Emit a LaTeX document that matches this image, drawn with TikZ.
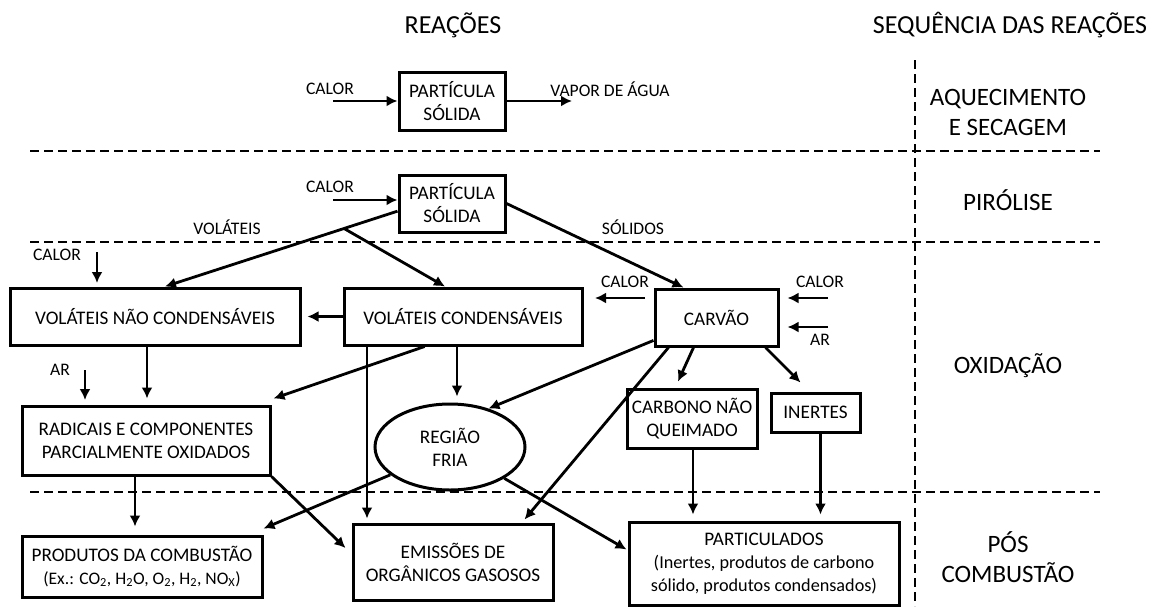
\documentclass[tikz,border=0pt]{standalone}
\usepackage{fontspec}
\setmainfont{Carlito}
\usetikzlibrary{arrows.meta,calc,shapes.geometric}
\begin{document}
\begin{tikzpicture}[x=1pt,y=-1pt,
  every node/.style={font=\fontsize{19.2}{23}\selectfont, align=center, inner sep=0pt},
  box/.style={draw, line width=3pt, minimum width=#1, minimum height=57pt},
  lbl/.style={font=\fontsize{17.6}{19}\selectfont},
  arr/.style={line width=2.8pt, -{Latex[length=11pt,width=11pt]}},
  sepline/.style={line width=2.8pt, dash pattern=on 9pt off 5pt},
  ttl/.style={font=\fontsize{26}{28}\selectfont},
  stage/.style={font=\fontsize{25}{30}\selectfont}]
\useasboundingbox (0,0) rectangle (1157,606);
% titles
\node[ttl] (t1) at (453,25) {REAÇÕES};
\node[ttl] (t2) at (1010,25) {SEQUÊNCIA DAS REAÇÕES};
% separators
\coordinate (v1) at (915,60); \coordinate (v2) at (915,606);
\draw[sepline] (v1) -- (v2);
\coordinate (h1a) at (30,151); \coordinate (h1b) at (1100,151);
\coordinate (h2a) at (30,242); \coordinate (h2b) at (1100,242);
\coordinate (h3a) at (30,492); \coordinate (h3b) at (1100,492);
\draw[sepline] (h1a) -- (h1b);
\draw[sepline] (h2a) -- (h2b);
\draw[sepline] (h3a) -- (h3b);
% stage labels
\node[stage] (s1) at (1008,112) {AQUECIMENTO\\E SECAGEM};
\node[stage] (s2) at (1008,200) {PIRÓLISE};
\node[stage] (s3) at (1008,366) {OXIDAÇÃO};
\node[stage] (s4) at (1008,557) {PÓS\\COMBUSTÃO};
% stage 1
\node[box=106pt, minimum height=58pt] (p1) at (452,101) {PARTÍCULA\\SÓLIDA};
\node[lbl] (c1) at (330,89) {CALOR};
\coordinate (c1s) at (333,101);
\draw[arr] (c1s) -- (p1.west);
\coordinate (va) at (572,101);
\draw[arr] (p1.east) -- (va);
\node[lbl] (vap) at (610,89) {VAPOR DE ÁGUA};
% stage 2
\node[box=106pt] (p2) at (452,203.5) {PARTÍCULA\\SÓLIDA};
\node[lbl] (c2) at (330,187) {CALOR};
\coordinate (c2s) at (333,200);
\draw[arr] (c2s) -- (c2s -| p2.west);
\node[lbl] (vol) at (227,227) {VOLÁTEIS};
\node[lbl] (sol) at (633,227) {SÓLIDOS};
% oxidation boxes
\node[box=290pt] (vnc) at (155,316.5) {VOLÁTEIS NÃO CONDENSÁVEIS};
\node[box=238pt] (vc) at (463,316.5) {VOLÁTEIS CONDENSÁVEIS};
\node[box=123pt] (car) at (716.5,317.5) {CARVÃO};
\node[box=248pt, minimum height=69pt] (rad) at (146,440.5) {RADICAIS E COMPONENTES\\PARCIALMENTE OXIDADOS};
\node[ellipse, draw, line width=3pt, minimum width=150pt, minimum height=86pt] (reg) at (450,447) {REGIÃO\\FRIA};
\node[box=130pt, minimum height=59pt] (cnq) at (692,418.5) {CARBONO NÃO\\QUEIMADO};
\node[box=89pt, minimum height=39pt] (ine) at (815.5,412.5) {INERTES};
% post combustion boxes
\node[box=240pt, minimum height=61pt] (pro) at (142,566.5) {PRODUTOS DA COMBUSTÃO\\{\fontsize{17.6}{23}\selectfont (Ex.: CO\textsubscript{2}, H\textsubscript{2}O, O\textsubscript{2}, H\textsubscript{2}, NO\textsubscript{X})}};
\node[box=200pt, minimum height=76pt] (emi) at (453,562) {EMISSÕES DE\\ORGÂNICOS GASOSOS};
\node[box=270pt, minimum height=83pt] (par) at (764,563.5) {PARTICULADOS\\{\fontsize{18.2}{23}\selectfont (Inertes, produtos de carbono}\\{\fontsize{18.2}{23}\selectfont sólido, produtos condensados)}};
% pyrolysis connectors
\coordinate (vnctop) at ($(vnc.north)+(10,0)$);
\coordinate (vctop) at ($(vc.north)+(-18,0)$);
\coordinate (cartop) at ($(car.north)+(-33,0)$);
\coordinate (vb) at ($(p2.188)!0.23!(vnctop)$);
\draw[arr] (p2.188) -- (vnctop);
\draw[arr] (vb) -- (vctop);
\draw[arr] (p2.east) -- (cartop);
% heat / air inputs
\node[lbl] (c3) at (57,255) {CALOR};
\coordinate (c3s) at (97,252); \coordinate (c3e) at (97,283);
\draw[arr] (c3s) -- (c3e);
\node[lbl] (c4) at (625,282) {CALOR};
\coordinate (c4s) at (645,298); \coordinate (c4e) at (595,298);
\draw[arr] (c4s) -- (c4e);
\node[lbl] (c5) at (820,282) {CALOR};
\coordinate (c5s) at (828,298);
\draw[arr] (c5s) -- ($(c5s -| car.east)+(8,0)$);
\coordinate (a1s) at (828,327);
\draw[arr] (a1s) -- ($(a1s -| car.east)+(8,0)$);
\node[lbl] (a1) at (820,340) {AR};
\node[lbl] (a2) at (60,370) {AR};
\coordinate (a2s) at (85,370); \coordinate (a2e) at (85,400);
\draw[arr] (a2s) -- (a2e);
% oxidation connectors
\draw[arr] (vc.west) -- ($(vnc.east)+(6,0)$);
\coordinate (vncb) at ($(vnc.south)+(-8,0)$);
\draw[arr] (vncb) -- ($(vncb |- rad.north)+(0,-6)$);
\coordinate (radne) at ($(rad.north east)+(2,-6)$);
\draw[arr] (vc.218) -- (radne);
\coordinate (vcl) at (367,345);
\draw[arr] (vcl) -- ($(vcl |- emi.north)+(0,-4)$);
\coordinate (vcm) at (457,345);
\draw[arr] (vcm) -- ($(reg.north -| vcm)+(0,-6)$);
\draw[arr] (car.200) -- (reg.45);
\coordinate (emine) at ($(emi.north east)+(-30,-3)$);
\draw[arr] (car.212) -- (emine);
\coordinate (cnqt) at ($(cnq.north)+(-14,-6)$);
\draw[arr] ($(car.south)+(-23,0)$) -- (cnqt);
\coordinate (inet) at ($(ine.north)+(-15,-9)$);
\draw[arr] ($(car.south)+(49,0)$) -- (inet);
% to post combustion
\coordinate (cnqb) at ($(cnq.south)+(1,0)$);
\draw[arr] (cnqb) -- ($(cnqb |- par.north)+(0,-6)$);
\coordinate (ineb) at ($(ine.south)+(5,0)$);
\draw[arr] (ineb) -- ($(ineb |- par.north)+(0,-6)$);
\coordinate (radb) at ($(rad.south)+(-11,0)$);
\draw[arr] (radb) -- ($(radb |- pro.north)+(0,-8)$);
\draw[arr] (rad.south east) -- ($(emi.west)+(-6,-14)$);
\draw[arr] (reg.205) -- ($(pro.north east)+(0,-6)$);
\draw[arr] (reg.-30) -- ($(par.west)+(-1,-14)$);
\end{tikzpicture}
\end{document}
